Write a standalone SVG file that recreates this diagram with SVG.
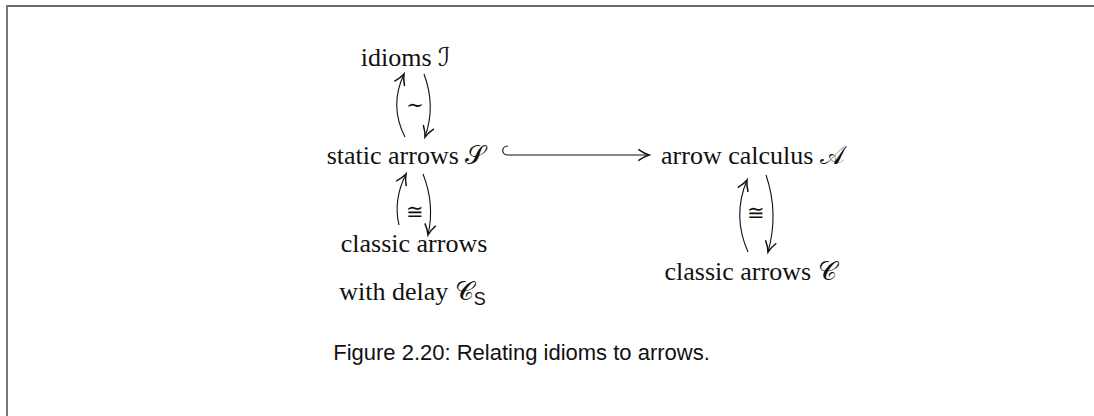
<svg xmlns="http://www.w3.org/2000/svg" width="1094" height="416" viewBox="0 0 1094 416">
  <style>
    .lbl { font-family: "Liberation Serif", "DejaVu Serif", serif; font-size: 26px; fill: #111; text-anchor: middle; }
    .cal { font-family: "DejaVu Sans", "Noto Sans", serif; font-style: normal; }
    .rel { font-family: "DejaVu Serif", "Liberation Serif", serif; font-size: 21px; fill: #111; text-anchor: middle; }
    .cap { font-family: "Liberation Sans", Arial, sans-serif; font-size: 22px; fill: #111; text-anchor: middle; }
    .edge { fill: none; stroke: #111; stroke-width: 1.1; }
  </style>
  <defs>
    <marker id="tip" markerUnits="userSpaceOnUse" markerWidth="16" markerHeight="16" refX="0" refY="0" viewBox="-9 -6 11 12" orient="auto">
      <path d="M -8 -4.2 Q -3.5 -1 0 0 Q -3.5 1 -8 4.2" fill="none" stroke="#111" stroke-width="1.1"/>
    </marker>
  </defs>

  <!-- frame -->
  <path d="M 7 417 V 6 H 1094" fill="none" stroke="#6b6b6b" stroke-width="1.8"/>

  <g id="connectors">
    <!-- idioms <-> static arrows -->
    <path class="edge" d="M 405 137 Q 389 106 404 74" marker-end="url(#tip)"/>
    <path class="edge" d="M 424 74 Q 436 106 425 137" marker-end="url(#tip)"/>
    <text class="rel" x="415" y="112">∼</text>
    <!-- static arrows <-> classic arrows with delay -->
    <path class="edge" d="M 399 225 Q 393 200 406 174" marker-end="url(#tip)"/>
    <path class="edge" d="M 423 174 Q 435 204 428 235" marker-end="url(#tip)"/>
    <text class="rel" x="415" y="219">≅</text>
    <!-- arrow calculus <-> classic arrows -->
    <path class="edge" d="M 748 252 Q 732 216 747 180" marker-end="url(#tip)"/>
    <path class="edge" d="M 766 175 Q 779 213 768 252" marker-end="url(#tip)"/>
    <text class="rel" x="756" y="220">≅</text>
    <!-- hooked inclusion: static arrows into arrow calculus -->
    <path class="edge" d="M 508 146 C 501 146 501 155 508 155 L 649 155" marker-end="url(#tip)"/>
  </g>

  <g id="idioms">
    <text class="lbl" x="405.5" y="66">idioms <tspan class="cal">ℐ</tspan></text>
  </g>
  <g id="static-arrows">
    <text class="lbl" x="406" y="164">static arrows <tspan class="cal">𝒮</tspan></text>
  </g>
  <g id="arrow-calculus">
    <text class="lbl" x="753" y="164">arrow calculus <tspan class="cal">𝒜</tspan></text>
  </g>
  <g id="classic-arrows-delay">
    <text class="lbl" x="414" y="252">classic arrows</text>
    <text class="lbl" x="412.5" y="300">with delay <tspan class="cal">𝒞</tspan><tspan font-family="Liberation Sans, sans-serif" font-size="18px" dy="5">S</tspan></text>
  </g>
  <g id="classic-arrows">
    <text class="lbl" x="750.5" y="280">classic arrows <tspan class="cal">𝒞</tspan></text>
  </g>

  <text class="cap" x="521.5" y="360">Figure 2.20: Relating idioms to arrows.</text>
</svg>
